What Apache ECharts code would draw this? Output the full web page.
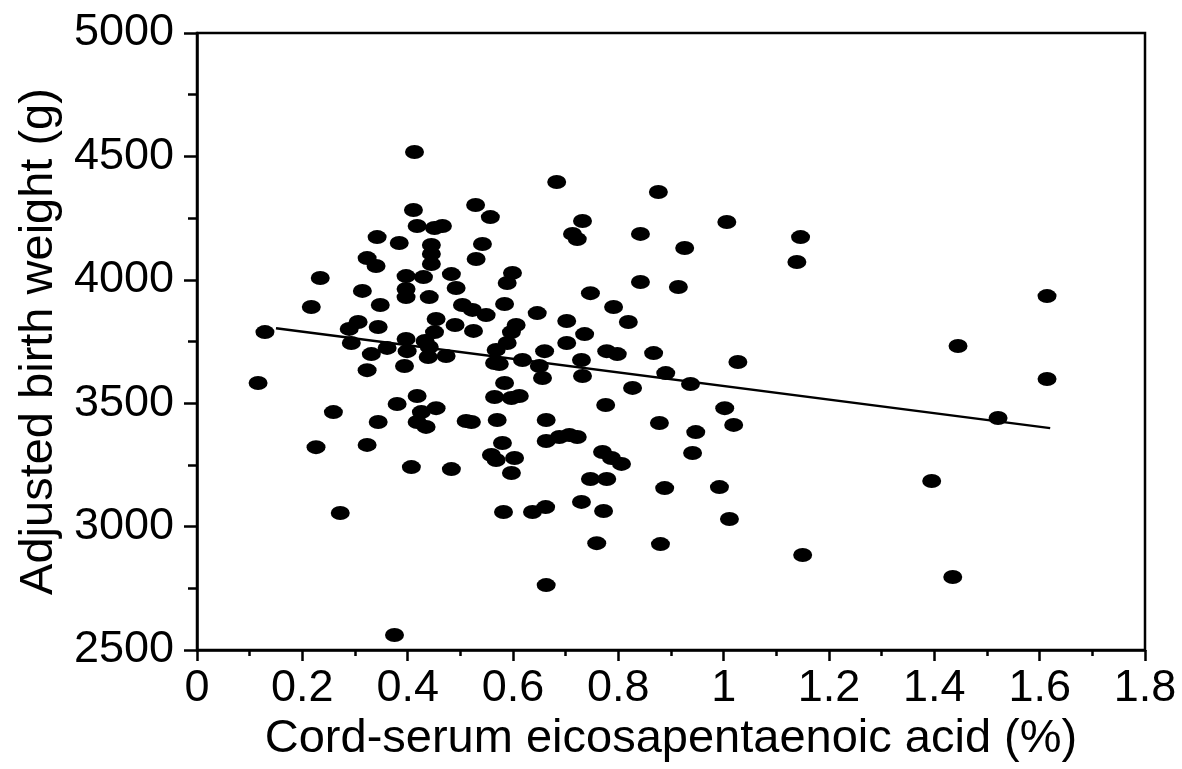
<!DOCTYPE html>
<html>
<head>
<meta charset="utf-8">
<script src="https://cdn.jsdelivr.net/npm/echarts@6/dist/echarts.min.js"></script>
<style>
html,body{margin:0;padding:0;background:#fff;}
#chart{width:1182px;height:769px;}
</style>
</head>
<body>
<div id="chart"></div>
<script>
// Cord-serum eicosapentaenoic acid (%)
var epaValues = [
0.413,0.411,0.529,0.557,0.418,0.451,0.466,0.342,0.384,0.445,0.542,0.445,0.323,0.340,0.445,0.530,0.397,0.430,0.483,0.234,
0.314,0.397,0.397,0.441,0.492,0.348,0.217,0.504,0.523,0.549,0.129,0.289,0.306,0.344,0.454,0.490,0.525,0.451,0.293,0.397,
0.433,0.361,0.399,0.441,0.439,0.473,0.331,0.323,0.394,0.568,0.565,
0.116,0.259,0.380,0.418,0.344,0.426,0.454,0.418,0.435,0.511,0.226,0.323,0.407,0.483,0.272,0.375,
0.683,0.876,0.732,1.006,0.713,0.722,0.842,0.926,0.599,0.589,0.842,0.914,0.747,0.584,0.646,0.791,0.819,0.702,0.606,0.597,
0.736,0.589,0.702,0.660,0.778,0.798,0.867,0.574,0.618,0.650,0.656,0.730,0.890,0.732,1.027,0.937,0.827,0.584,0.565,0.597,
0.612,0.776,1.002,
1.019,0.521,0.570,0.663,0.878,0.947,0.580,0.559,0.568,0.603,0.597,0.663,0.688,0.707,0.722,0.770,0.787,0.806,0.941,0.747,
0.778,0.888,0.992,0.582,0.637,0.662,0.730,0.772,1.011,0.759,0.880,0.663,
1.146,1.139,1.614,1.445,1.614,1.521,1.395,1.150,1.435
];
// Adjusted birth weight (g)
var weightValues = [
4518,4283,4303,4254,4218,4210,4218,4173,4149,4141,4145,4105,4088,4056,4064,4084,4015,4011,4023,4007,
3955,3963,3930,3930,3967,3898,3890,3898,3878,3857,3788,3801,3829,3809,3841,3817,3793,3788,3744,3760,
3752,3724,3711,3728,3687,3691,3699,3634,3651,3716,3663,
3582,3464,3497,3529,3424,3464,3480,3424,3404,3428,3322,3331,3241,3233,3055,2561,
4396,4356,4238,4234,4186,4165,4186,4129,4028,3987,3991,3971,3946,3902,3865,3890,3829,3833,3817,3788,
3780,3744,3744,3711,3711,3699,3703,3659,3675,3651,3602,3675,3622,3610,3667,3578,3562,3582,3525,3521,
3529,3493,3480,
3412,3424,3432,3432,3420,3383,3339,3290,3270,3278,3217,3347,3363,3371,3363,3302,3278,3254,3298,3193,
3193,3156,3160,3059,3059,3079,3100,3063,3031,2933,2929,2763,
4173,4072,3934,3732,3598,3440,3185,2885,2796
];
// Regression line end points
var fitX = [0.15, 1.62];
var fitY = [3804, 3399];
// Axis ticks
var xTicks = [0, 0.2, 0.4, 0.6, 0.8, 1, 1.2, 1.4, 1.6, 1.8];
var yTicks = [2500, 3000, 3500, 4000, 4500, 5000];

var FONT = '"Liberation Sans", Arial, Helvetica, sans-serif';
var scatterData = epaValues.map(function (x, i) { return [x, weightValues[i]]; });
var fitData = fitX.map(function (x, i) { return [x, fitY[i]]; });

var chart = echarts.init(document.getElementById('chart'), null, {renderer: 'canvas'});
chart.setOption({
  animation: false,
  backgroundColor: '#fff',
  grid: {
    left: 197, right: 37, top: 33, bottom: 119,
    show: true, borderColor: '#000', borderWidth: 2.5, backgroundColor: 'transparent'
  },
  xAxis: {
    type: 'value',
    min: xTicks[0], max: xTicks[xTicks.length - 1], interval: 0.2,
    name: 'Cord-serum eicosapentaenoic acid (%)',
    nameLocation: 'middle', nameGap: 65,
    nameTextStyle: {fontFamily: FONT, fontSize: 47, color: '#000'},
    axisLine: {show: true, onZero: false, lineStyle: {color: '#000', width: 2.5}},
    axisTick: {show: true, inside: false, length: 11, lineStyle: {color: '#000', width: 2.5}},
    minorTick: {show: true, splitNumber: 2, length: 6, lineStyle: {color: '#000', width: 2.5}},
    splitLine: {show: false},
    axisLabel: {
      fontFamily: FONT, fontSize: 45, color: '#000', margin: 16,
      formatter: function (v) { return String(+(+v).toFixed(1)); }
    }
  },
  yAxis: {
    type: 'value',
    min: yTicks[0], max: yTicks[yTicks.length - 1], interval: 500,
    name: 'Adjusted birth weight (g)',
    nameLocation: 'middle', nameGap: 134, nameRotate: 90,
    nameTextStyle: {fontFamily: FONT, fontSize: 47, color: '#000'},
    axisLine: {show: true, onZero: false, lineStyle: {color: '#000', width: 2.5}},
    axisTick: {show: true, inside: false, length: 13, lineStyle: {color: '#000', width: 2.5}},
    minorTick: {show: true, splitNumber: 2, length: 9, lineStyle: {color: '#000', width: 2.5}},
    splitLine: {show: false},
    axisLabel: {
      fontFamily: FONT, fontSize: 45, color: '#000', margin: 23,
      formatter: function (v) { return String(Math.round(v)); }
    }
  },
  series: [
    {
      type: 'line',
      data: fitData,
      showSymbol: false,
      symbol: 'none',
      lineStyle: {color: '#000', width: 2.5},
      z: 2
    },
    {
      type: 'scatter',
      data: scatterData,
      symbol: 'circle',
      symbolSize: [19, 14],
      itemStyle: {color: '#000', opacity: 1},
      z: 3
    }
  ]
});
</script>
</body>
</html>
